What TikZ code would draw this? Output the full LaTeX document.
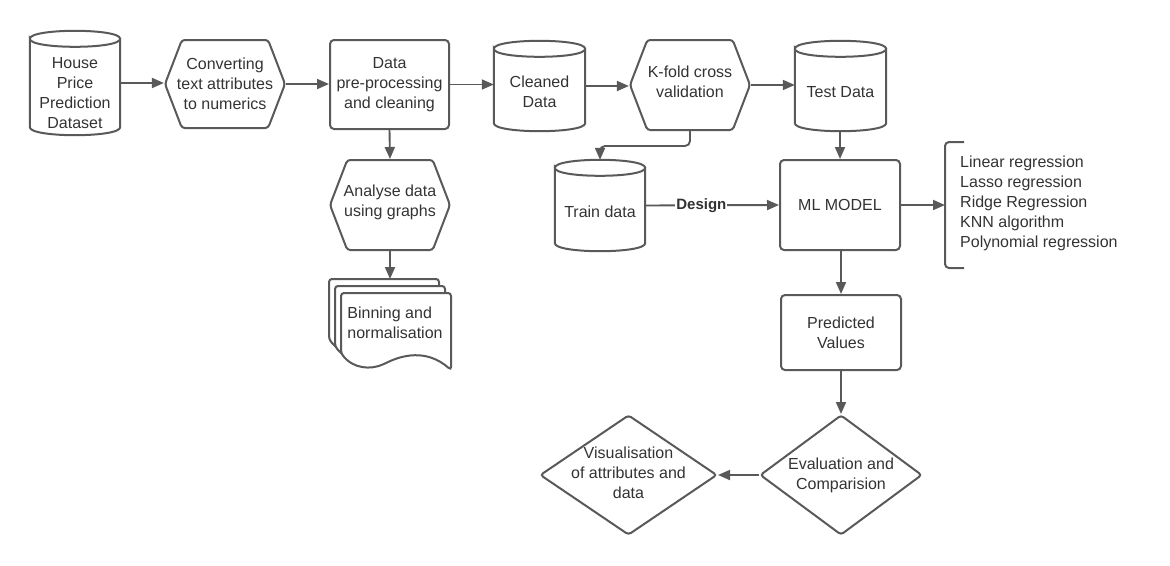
\documentclass[tikz,border=0pt]{standalone}
\usepackage{fontspec}
\setmainfont{Liberation Sans}
\usetikzlibrary{shapes.geometric,shapes.symbols,arrows.meta}
\definecolor{linegray}{RGB}{89,89,89}
\definecolor{textgray}{RGB}{51,51,51}
% outline of a database drum round a named node
\newcommand{\dbdraw}[1]{%
  \draw[base] ([yshift=-8pt]#1.north west) .. controls ([yshift=2.67pt]#1.north west) and ([yshift=2.67pt]#1.north east) .. ([yshift=-8pt]#1.north east)
    .. controls ([yshift=-18.67pt]#1.north east) and ([yshift=-18.67pt]#1.north west) .. ([yshift=-8pt]#1.north west)
    -- ([yshift=8pt]#1.south west) .. controls ([yshift=-2.67pt]#1.south west) and ([yshift=-2.67pt]#1.south east) .. ([yshift=8pt]#1.south east)
    -- ([yshift=-8pt]#1.north east);}
\begin{document}
\begin{tikzpicture}[x=1pt,y=-1pt]
 \useasboundingbox (0,0) rectangle (1170,565);

\tikzstyle{base}=[draw=linegray,line width=2pt,inner sep=0pt]
\tikzstyle{txt}=[text=textgray,align=center,font=\fontsize{16}{20}\selectfont,inner sep=0pt]
\tikzstyle{db}=[rectangle,inner sep=0pt,minimum width=90pt]
\tikzstyle{hexa}=[base,signal,signal to=west and east,signal pointer angle=138,minimum width=120pt,minimum height=88pt,rounded corners=3pt]
\tikzstyle{procbox}=[base,txt,rounded corners=4pt,minimum width=120pt,minimum height=90pt]
\tikzstyle{decide}=[base,diamond,minimum height=120pt,rounded corners=3pt]
\tikzstyle{flow}=[draw=linegray,line width=1.9pt,-{Triangle[length=12pt,width=10pt]}]

   %top row
   \node[db,minimum height=104pt] (house) at (75,83) {};
   \dbdraw{house}
   \node[txt] (house_t) at ([yshift=-10pt]house.center) {House\\Price\\Prediction\\Dataset};

   \node[hexa] (conv) at (225,84) {};
   \node[txt] (conv_t) at (conv) {Converting\\text attributes\\to numerics};

   \node[procbox,minimum width=119pt,minimum height=89pt] (prep) at (389.5,84.5) {Data\\pre-processing\\and cleaning};

   \node[db,minimum width=91pt,minimum height=90pt] (clean) at (539.5,86) {};
   \dbdraw{clean}
   \node[txt] (clean_t) at ([yshift=-6pt]clean.center) {Cleaned\\Data};

   \node[hexa,minimum height=90pt] (kfold) at (690,85) {};
   \node[txt] (kfold_t) at ([yshift=3pt]kfold.center) {K-fold cross\\validation};

   \node[db,minimum width=91pt,minimum height=90pt] (test) at (840.5,86) {};
   \dbdraw{test}
   \node[txt] (test_t) at ([yshift=-6pt]test.center) {Test Data};

   %middle row
   \node[hexa,minimum height=90pt] (analyse) at (390,205) {};
   \node[txt] (analyse_t) at ([yshift=3pt]analyse.center) {Analyse data\\using graphs};

   \node[db,minimum height=91pt] (train) at (600,205.5) {};
   \dbdraw{train}
   \node[txt] (train_t) at ([yshift=-6pt]train.center) {Train data};

   \node[procbox] (ml) at (840,205) {ML MODEL};

   %stack of pages
   \foreach \dx/\dy in {0/0,6/7,12/14}
   {
    \begin{scope}[shift={(329+\dx,279+\dy)}]
     \draw[base,fill=white,rounded corners=3pt] (0,60) -- (0,0) -- (110,0) -- (110,77)
       .. controls (85,55) and (60,63) .. (45,70) .. controls (30,77) and (12,76) .. (0,60) -- cycle;
    \end{scope}
   }
   \coordinate (bin_top) at (390,279);
   \node[txt,align=left] (bin_t) at (395,323) {Binning and\\normalisation};

   %models
   \coordinate (brk) at (945,205);
   \draw[base,rounded corners=4pt] (964,142) -- (945,142) -- (945,268) -- (964,268);
   \node[txt,align=left,anchor=west] (models) at (960,203) {Linear regression\\Lasso regression\\Ridge Regression\\KNN algorithm\\Polynomial regression};

   %lower part
   \node[procbox,minimum height=75pt] (pred) at (841,332.5) {Predicted\\Values};

   \node[decide,minimum width=162pt] (eval) at (841,475) {};
   \node[txt] (eval_t) at (eval) {Evaluation and\\Comparision};

   \node[decide,minimum width=177pt] (vis) at (628.5,475) {};
   \node[txt] (vis_t) at ([yshift=2pt]vis.center) {Visualisation\\of attributes and\\data};

   %connectors
   \draw[flow] (house.east) -- (house.east -| conv.west);
   \draw[flow] (conv.east) -- (conv.east -| prep.west);
   \draw[flow] (prep.east) -- (prep.east -| clean.west);
   \draw[flow] (clean.east) -- (clean.east -| kfold.west);
   \draw[flow] (kfold.east) -- (kfold.east -| test.west);
   \draw[flow,rounded corners=5pt] (kfold.south) -- ++(0,15) -| (train.north);
   \draw[flow] (test.south) -- (test.south -| ml.north) -- (ml.north);
   \draw[flow] (prep.south) -- (analyse.north);
   \draw[flow] (analyse.south) -- (analyse.south |- bin_top);
   \draw[flow] (train.east) -- (ml.west) node[pos=0.42,fill=white,text=textgray,inner sep=1pt,font=\bfseries\fontsize{15}{17}\selectfont] (design) {Design};
   \draw[flow] (ml.east) -- (brk);
   \draw[flow] (ml.south -| pred.north) -- (pred.north);
   \draw[flow] (pred.south) -- (eval.north);
   \draw[flow] (eval.west) -- (vis.east);

\end{tikzpicture}
\end{document}
